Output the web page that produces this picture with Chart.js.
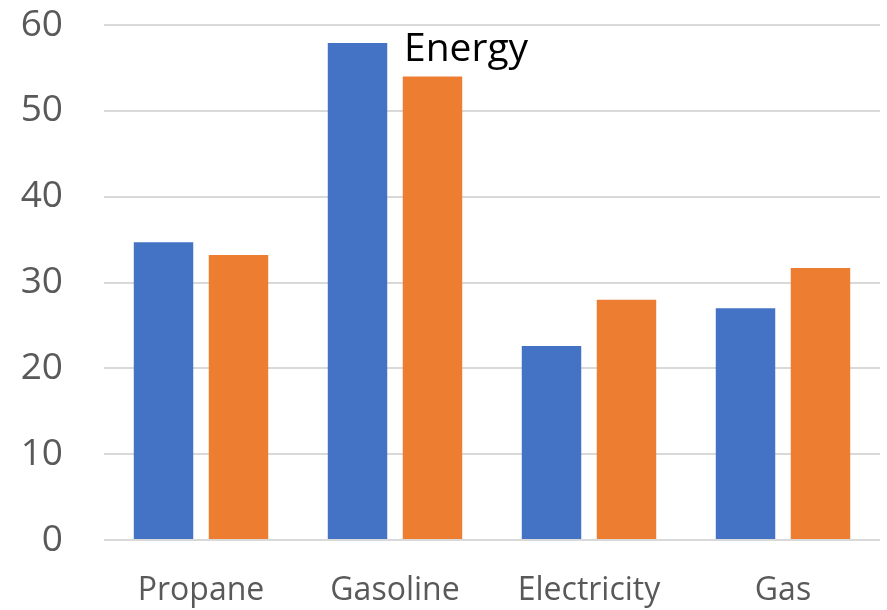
<!DOCTYPE html>
<html>
<head>
<meta charset="utf-8">
<script src="https://cdn.jsdelivr.net/npm/chart.js@4.4.0/dist/chart.umd.min.js"></script>
<style>
  html, body { margin: 0; padding: 0; background: #fff; }
  #wrap { width: 887px; height: 610px; }
</style>
</head>
<body>
<div id="wrap"><canvas id="chart"></canvas></div>
<script>
const categories = ['Propane', 'Gasoline', 'Electricity', 'Gas'];
const seriesA = [34.7, 57.9, 22.6, 27.0];
const seriesB = [33.2, 54.0, 28.0, 31.7];
const yTicks = [0, 10, 20, 30, 40, 50, 60];
const chartTitle = 'Energy';

// 'Energy' sits inside the plot, just right of the tallest blue bar
const floatingTitle = {
    id: 'floatingTitle',
    afterDraw(chart) {
        const ctx = chart.ctx;
        const area = chart.chartArea;
        ctx.save();
        ctx.font = '39px "Open Sans"';
        ctx.fillStyle = '#000000';
        ctx.textBaseline = 'alphabetic';
        ctx.textAlign = 'left';
        ctx.fillText(chartTitle, area.left + 300, area.top + 36);
        ctx.restore();
    }
};

new Chart(document.getElementById('chart'), {
    type: 'bar',
    data: {
        labels: categories,
        datasets: [
            { data: seriesA, backgroundColor: '#4472C4' },
            { data: seriesB, backgroundColor: '#ED7D31' }
        ]
    },
    options: {
        responsive: true,
        maintainAspectRatio: false,
        animation: false,
        layout: { padding: { top: 25, right: 7, left: 0, bottom: 0 } },
        plugins: {
            legend: { display: false },
            tooltip: { enabled: false }
        },
        datasets: {
            bar: { categoryPercentage: 0.773, barPercentage: 0.793 }
        },
        scales: {
            x: {
                grid: { display: false, drawTicks: false },
                border: { display: false },
                ticks: { color: '#595959', font: { family: 'Open Sans', size: 32 }, padding: 32 },
                afterFit: (scale) => { scale.height = 70; }
            },
            y: {
                min: 0,
                max: 60,
                afterBuildTicks: (scale) => { scale.ticks = yTicks.map(v => ({ value: v })); },
                grid: { color: '#D9D9D9', lineWidth: 2, drawTicks: false },
                border: { display: false },
                ticks: { color: '#595959', font: { family: 'Open Sans', size: 37 }, padding: 41 },
                afterFit: (scale) => {
                    scale.width = 104;
                    // tick padding would otherwise push the plot down
                    scale.paddingTop = 0;
                    scale.paddingBottom = 0;
                }
            }
        }
    },
    plugins: [floatingTitle]
});
</script>
</body>
</html>
